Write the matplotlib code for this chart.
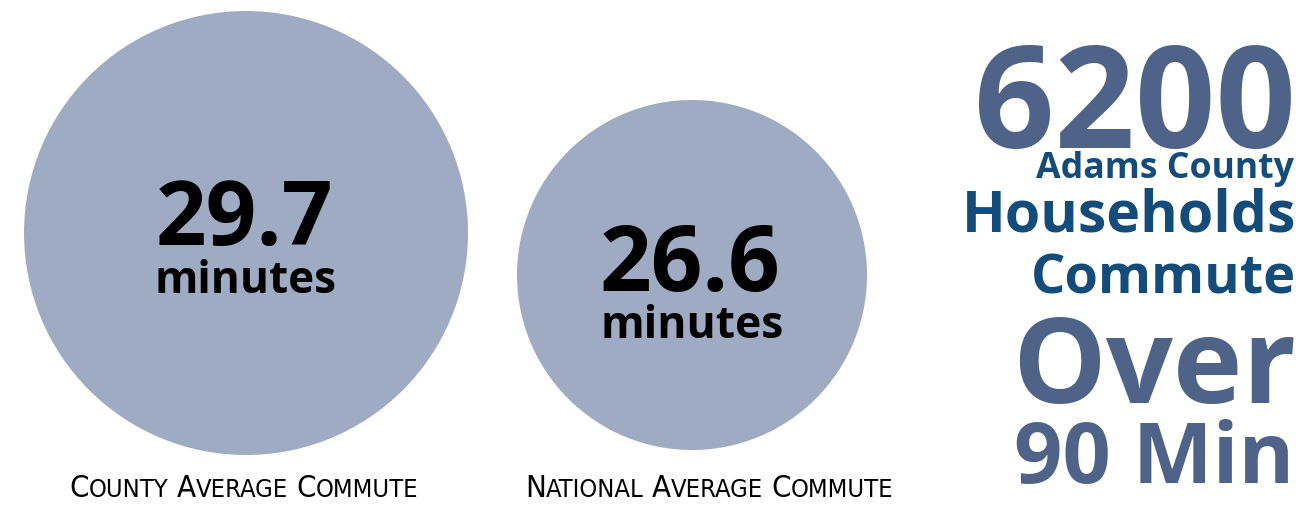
import matplotlib.pyplot as plt
from matplotlib.patches import Circle

# data
labels = ['County Average Commute', 'National Average Commute']
avg_minutes = [29.7, 26.6]
unit = 'minutes'
households = 6200
county = 'Adams County'
threshold_min = 90

# layout (pixel coords, y down)
W, H = 1307, 508
centers = [(246, 233), (692, 275)]
radii = [222, 175]
num_base = [245, 291]
unit_base = [293, 338]
label_centers = [244, 709]
label_widths = [348, 368]
label_base = 497

circle_col = '#9eabc2'
slate = '#4f6389'
navy = '#134b7b'
bold_font = ['Open Sans', 'DejaVu Sans']

fig = plt.figure(figsize=(W / 100, H / 100), dpi=100)
ax = fig.add_axes([0, 0, 1, 1])
ax.set_xlim(0, W)
ax.set_ylim(H, 0)
ax.axis('off')
renderer = fig.canvas.get_renderer()


def fit_text(x, y, s, width, color, ha='center', size0=40):
    t = ax.text(x, y, s, ha=ha, va='baseline', fontsize=size0, color=color,
                family=bold_font, fontweight='bold')
    w = t.get_window_extent(renderer).width
    t.set_fontsize(size0 * width / w)
    return t


def small_caps(xc, y, phrase, width, size=20, ratio=0.82):
    # fake small caps: first letter big, rest upper case at a smaller size
    def build(sz):
        parts, x = [], 0
        gap = sz * 100 / 72 * 0.26
        for word in phrase.split():
            for chunk, fs in [(word[0], sz), (word[1:].upper(), sz * ratio)]:
                t = ax.text(x, y, chunk, ha='left', va='baseline', fontsize=fs,
                            family='DejaVu Sans', fontstretch='condensed',
                            fontweight='light', color='black')
                x += t.get_window_extent(renderer).width
                parts.append(t)
            x += gap
        return parts, x - gap

    parts, total = build(size)
    for t in parts:
        t.remove()
    parts, total = build(size * width / total)
    for t in parts:
        px, py = t.get_position()
        t.set_position((px + xc - total / 2, py))


num_widths = [177, 181]
unit_widths = [182, 183]
for i in range(2):
    ax.add_patch(Circle(centers[i], radii[i], color=circle_col, lw=0))
    fit_text(centers[i][0] - 2, num_base[i], f'{avg_minutes[i]:.1f}', num_widths[i], 'black')
    fit_text(centers[i][0], unit_base[i], unit, unit_widths[i], 'black')
    small_caps(label_centers[i], label_base, labels[i], label_widths[i])

# right-hand headline
xr = 1296
fit_text(xr, 148, f'{households}', 322, slate, ha='right')
fit_text(xr - 2, 178, county, 258, navy, ha='right')
fit_text(xr, 232, 'Households', 334, navy, ha='right')
fit_text(xr, 293, 'Commute', 265, navy, ha='right')
fit_text(xr, 403, 'Over', 284, slate, ha='right')
fit_text(xr - 2, 483, f'{threshold_min} Min', 280, slate, ha='right')

fig.savefig('out.png', dpi=100)
